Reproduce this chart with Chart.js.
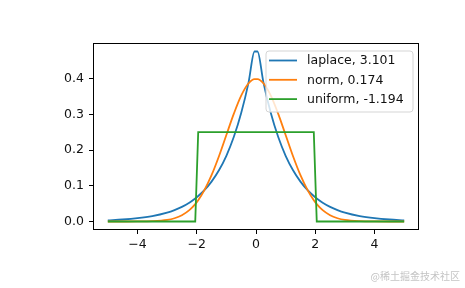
<!DOCTYPE html>
<html>
<head>
<meta charset="utf-8">
<script src="https://cdn.jsdelivr.net/npm/chart.js@4"></script>
<style>
  html, body { margin: 0; padding: 0; background: #fff; }
  #wrap { width: 465px; height: 288px; }
</style>
</head>
<body>
<div id="wrap"><canvas id="distChart"></canvas></div>
<script>
// x positions
const xs = [-5, -4.5, -4, -3.5, -3, -2.75, -2.5, -2.25, -2.05, -1.95, -1.75, -1.5, -1.25, -1, -0.75, -0.5, -0.25, -0.05,
            0.05, 0.25, 0.5, 0.75, 1, 1.25, 1.5, 1.75, 1.95, 2.05, 2.25, 2.5, 2.75, 3, 3.5, 4, 4.5, 5];
const laplaceY = [0.0034, 0.0056, 0.0092, 0.0151, 0.0249, 0.0320, 0.0410, 0.0527, 0.0644, 0.0712, 0.0869, 0.1116, 0.1433, 0.1839, 0.2362, 0.3033, 0.3894, 0.4756,
                  0.4756, 0.3894, 0.3033, 0.2362, 0.1839, 0.1433, 0.1116, 0.0869, 0.0712, 0.0644, 0.0527, 0.0410, 0.0320, 0.0249, 0.0151, 0.0092, 0.0056, 0.0034];
const normY = [0.0000, 0.0000, 0.0001, 0.0009, 0.0044, 0.0091, 0.0175, 0.0317, 0.0488, 0.0596, 0.0863, 0.1295, 0.1826, 0.2420, 0.3011, 0.3521, 0.3867, 0.3984,
               0.3984, 0.3867, 0.3521, 0.3011, 0.2420, 0.1826, 0.1295, 0.0863, 0.0596, 0.0488, 0.0317, 0.0175, 0.0091, 0.0044, 0.0009, 0.0001, 0.0000, 0.0000];
const uniformY = [0, 0, 0, 0, 0, 0, 0, 0, 0, 0.25, 0.25, 0.25, 0.25, 0.25, 0.25, 0.25, 0.25, 0.25,
                  0.25, 0.25, 0.25, 0.25, 0.25, 0.25, 0.25, 0.25, 0.25, 0, 0, 0, 0, 0, 0, 0, 0, 0];
const seriesLabels = ['laplace, 3.101', 'norm, 0.174', 'uniform, -1.194'];
const seriesColors = ['#1f77b4', '#ff7f0e', '#2ca02c'];
const xTicks = [-4, -2, 0, 2, 4];
const yTicks = [0.0, 0.1, 0.2, 0.3, 0.4];
const watermark = '@稀土掘金技术社区';

const FONT = 'DejaVu Sans';

function toPoints(ys) {
    return xs.map((x, i) => ({x: x, y: ys[i]}));
}

// 边框 + 图例 + 水印
const framePlugin = {
    id: 'frame',
    afterDatasetsDraw(chart) {
        const ctx = chart.ctx;
        const a = chart.chartArea;
        ctx.save();
        ctx.strokeStyle = '#000';
        ctx.lineWidth = 1;
        ctx.strokeRect(a.left + 0.5, a.top + 0.5, a.right - a.left - 1, a.bottom - a.top - 1);

        // legend box
        const bx = 266, by = 51, bw = 147, bh = 61, r = 3;
        ctx.beginPath();
        ctx.moveTo(bx + r, by);
        ctx.arcTo(bx + bw, by, bx + bw, by + bh, r);
        ctx.arcTo(bx + bw, by + bh, bx, by + bh, r);
        ctx.arcTo(bx, by + bh, bx, by, r);
        ctx.arcTo(bx, by, bx + bw, by, r);
        ctx.closePath();
        ctx.fillStyle = 'rgba(255,255,255,0.8)';
        ctx.fill();
        ctx.strokeStyle = '#d5d5d5';
        ctx.lineWidth = 1;
        ctx.stroke();

        ctx.font = '12.5px ' + FONT;
        ctx.textBaseline = 'middle';
        chart.data.datasets.forEach((ds, i) => {
            const yy = 60.5 + i * 19.3;
            ctx.strokeStyle = ds.borderColor;
            ctx.lineWidth = 1.8;
            ctx.beginPath();
            ctx.moveTo(269, yy);
            ctx.lineTo(297, yy);
            ctx.stroke();
            ctx.fillStyle = '#111';
            ctx.fillText(ds.label, 307, yy + 0.5);
        });

        ctx.font = '10px "Noto Sans CJK SC"';
        ctx.fillStyle = '#c4c4c4';
        ctx.textAlign = 'right';
        ctx.fillText(watermark, 460, 276);
        ctx.restore();
    }
};

const ctx = document.getElementById('distChart').getContext('2d');
const distChart = new Chart(ctx, {
    type: 'line',
    data: {
        datasets: [{
            label: seriesLabels[0],
            data: toPoints(laplaceY),
            borderColor: seriesColors[0],
            borderWidth: 1.8,
            pointRadius: 0,
            cubicInterpolationMode: 'monotone',
            fill: false,
            order: 2
        }, {
            label: seriesLabels[1],
            data: toPoints(normY),
            borderColor: seriesColors[1],
            borderWidth: 1.8,
            pointRadius: 0,
            cubicInterpolationMode: 'monotone',
            fill: false,
            order: 1
        }, {
            label: seriesLabels[2],
            data: toPoints(uniformY),
            borderColor: seriesColors[2],
            borderWidth: 1.8,
            pointRadius: 0,
            tension: 0,
            fill: false,
            order: 0
        }]
    },
    options: {
        responsive: true,
        maintainAspectRatio: false,
        animation: false,
        layout: { padding: { left: 0, right: 46, top: 43, bottom: 0 } },
        plugins: {
            legend: { display: false },
            tooltip: { enabled: false }
        },
        scales: {
            x: {
                type: 'linear',
                min: -5.5,
                max: 5.5,
                afterBuildTicks: s => { s.ticks = xTicks.map(v => ({value: v})); },
                afterFit: s => { s.height = 58; },
                grid: { drawOnChartArea: false, drawTicks: true, tickLength: 4, tickColor: '#000' },
                border: { display: false },
                ticks: {
                    color: '#111',
                    font: { family: FONT, size: 12.5 },
                    padding: 3,
                    maxRotation: 0,
                    callback: v => (v < 0 ? '\u2212' + Math.abs(v) : String(v))
                }
            },
            y: {
                type: 'linear',
                min: -0.0238,
                max: 0.4994,
                afterBuildTicks: s => { s.ticks = yTicks.map(v => ({value: v})); },
                afterFit: s => { s.width = 93; },
                grid: { drawOnChartArea: false, drawTicks: true, tickLength: 4, tickColor: '#000' },
                border: { display: false },
                ticks: {
                    color: '#111',
                    font: { family: FONT, size: 12.5 },
                    padding: 5,
                    callback: v => v.toFixed(1)
                }
            }
        }
    },
    plugins: [framePlugin]
});
</script>
</body>
</html>
